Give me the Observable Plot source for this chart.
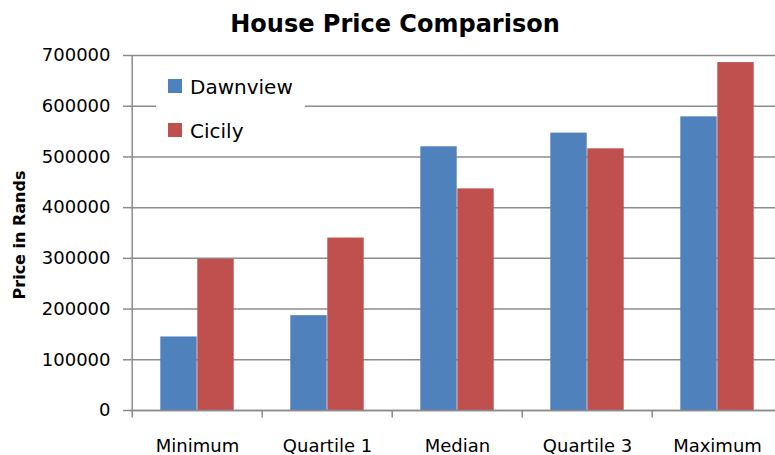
<!DOCTYPE html>
<html><head><meta charset="utf-8">
<script src="https://cdn.jsdelivr.net/npm/d3@7"></script>
<script src="https://cdn.jsdelivr.net/npm/@observablehq/plot@0.6"></script>
<style>
body{margin:0;background:#fff;}
#wrap{position:relative;width:775px;height:455px;overflow:hidden;font-family:"DejaVu Sans",sans-serif;color:#000;}
#chart{position:absolute;left:0;top:0;}
#title{position:absolute;left:195px;width:400px;top:10px;line-height:28px;text-align:center;font-weight:bold;font-size:24px;}
#ylabel{position:absolute;left:-80px;width:200px;top:225px;line-height:20px;text-align:center;font-weight:bold;font-size:16px;transform:rotate(-90deg);}
#legend{position:absolute;left:156px;top:62px;width:149px;height:88px;background:#fff;}
.sw{position:absolute;width:14px;height:14px;}
.lt{position:absolute;font-size:20px;line-height:24px;white-space:nowrap;}
</style></head>
<body>
<div id="wrap">
  <div id="chart"></div>
  <div id="title"></div>
  <div id="ylabel"></div>
  <div id="legend"></div>
</div>
<script>
const titleText = "House Price Comparison";
const yLabel = "Price in Rands";
const categories = ["Minimum", "Quartile 1", "Median", "Quartile 3", "Maximum"];
const seriesNames = ["Dawnview", "Cicily"];
const dawnview = [145000, 187000, 520000, 547000, 579000];
const cicily = [298000, 340000, 437000, 516000, 686000];
const yTicks = [0, 100000, 200000, 300000, 400000, 500000, 600000, 700000];
const colors = ["#4F81BD", "#C0504D"];

const dataD = categories.map((c, i) => ({category: c, value: dawnview[i]}));
const dataC = categories.map((c, i) => ({category: c, value: cicily[i]}));

const half = 65.3, barW = 37;

const plot = Plot.plot({
  width: 775,
  height: 455,
  marginTop: 55,
  marginBottom: 45,
  marginLeft: 130,
  marginRight: 0,
  style: {fontFamily: "DejaVu Sans", fontSize: "18px", color: "#000", background: "transparent"},
  x: {domain: categories, range: [130.6, 783.6], padding: 0},
  y: {domain: [0, 700000]},
  marks: [
    Plot.gridY(yTicks, {stroke: "#8c8c8c", strokeOpacity: 1, strokeWidth: 1.5}),
    Plot.barY(dataD, {x: "category", y: "value", fill: colors[0], insetLeft: half - barW, insetRight: half}),
    Plot.barY(dataC, {x: "category", y: "value", fill: colors[1], insetLeft: half, insetRight: half - barW}),
    Plot.ruleY([0], {stroke: "#8c8c8c", strokeWidth: 1.5}),
    Plot.ruleX([categories[0]], {x: d => d, dx: -half, y1: 0, y2: 700000, stroke: "#8c8c8c", strokeWidth: 1.5}),
    Plot.ruleX(categories, {x: d => d, dx: -half, y1: 0, y2: -15000, stroke: "#8c8c8c", strokeWidth: 1.5}),
    Plot.axisY(yTicks, {tickSize: 7, tickPadding: 13, tickFormat: d => String(d), stroke: "#8c8c8c", strokeWidth: 1.5, fill: "#000", label: null}),
    Plot.axisX({tickSize: 0, tickPadding: 29, fill: "#000", label: null})
  ]
});
document.getElementById("chart").appendChild(plot);
document.getElementById("title").textContent = titleText;
document.getElementById("ylabel").textContent = yLabel;

const legend = document.getElementById("legend");
const swTops = [79, 123];
seriesNames.forEach((name, i) => {
  const sw = document.createElement("div");
  sw.className = "sw";
  sw.style.left = (168 - 156) + "px";
  sw.style.top = (swTops[i] - 62) + "px";
  sw.style.background = colors[i];
  legend.appendChild(sw);
  const t = document.createElement("div");
  t.className = "lt";
  t.style.left = (190 - 156) + "px";
  t.style.top = (swTops[i] - 4 - 62) + "px";
  t.textContent = name;
  legend.appendChild(t);
});
</script>
</body></html>
